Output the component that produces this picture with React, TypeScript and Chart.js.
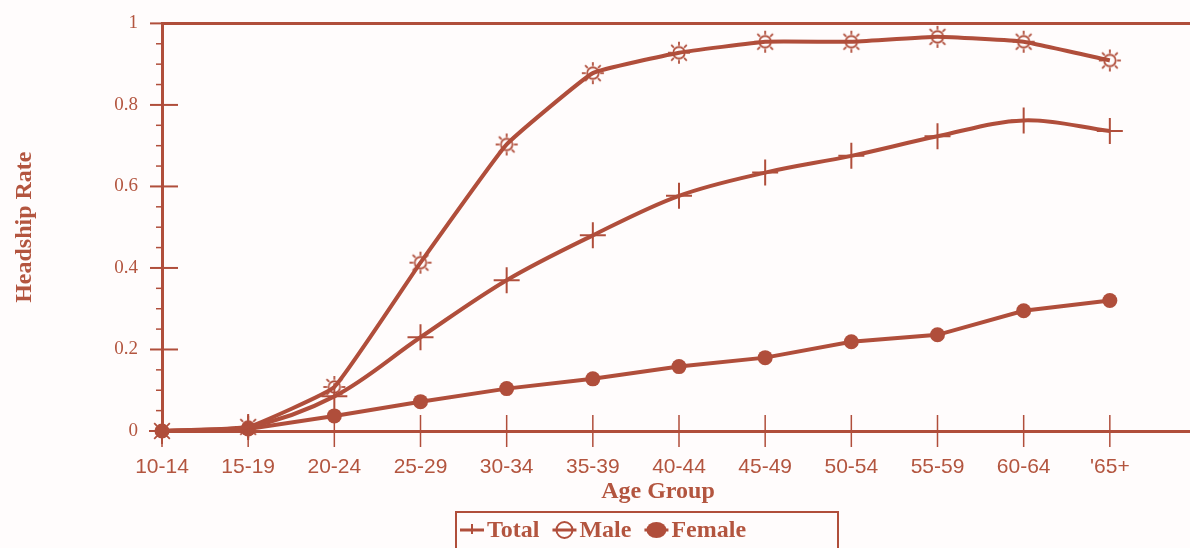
import React, { useEffect, useRef } from 'react';
import { Chart, registerables } from 'chart.js';

Chart.register(...registerables);

// ---- data ----
const ageGroups = ['10-14', '15-19', '20-24', '25-29', '30-34', '35-39', '40-44', '45-49', '50-54', '55-59', '60-64', "'65+", ''];
const totalRates = [0, 0.01, 0.085, 0.23, 0.37, 0.48, 0.577, 0.634, 0.675, 0.723, 0.762, 0.736];
const maleRates = [0, 0.01, 0.108, 0.413, 0.703, 0.878, 0.928, 0.955, 0.955, 0.967, 0.955, 0.909];
const femaleRates = [0, 0.005, 0.037, 0.072, 0.104, 0.128, 0.158, 0.18, 0.219, 0.236, 0.295, 0.32];
const yMajorTicks = [0, 0.2, 0.4, 0.6, 0.8, 1];
const seriesNames = ['Total', 'Male', 'Female'];
const yTitle = 'Headship Rate';
const xTitle = 'Age Group';

const LINE = '#b04e3b';
const TEXT = '#b3553f';
const BG = '#fffcfc';
const CANVAS_W = 1212;

function makeSun(color: string, size = 24) {
  const c = document.createElement('canvas');
  c.width = size;
  c.height = size;
  const g = c.getContext('2d')!;
  const m = size / 2;
  g.strokeStyle = color;
  g.lineWidth = 1.8;
  g.beginPath();
  g.arc(m, m, size * 0.24, 0, Math.PI * 2);
  g.stroke();
  for (let i = 0; i < 8; i++) {
    const a = (i * Math.PI) / 4;
    g.beginPath();
    g.moveTo(m + Math.cos(a) * size * 0.3, m + Math.sin(a) * size * 0.3);
    g.lineTo(m + Math.cos(a) * size * 0.46, m + Math.sin(a) * size * 0.46);
    g.stroke();
  }
  return c;
}

function isMajor(v: number) {
  return yMajorTicks.some((t) => Math.abs(t - v) < 1e-6);
}

export default function App() {
  const ref = useRef<HTMLCanvasElement | null>(null);

  useEffect(() => {
    const canvas = ref.current;
    if (!canvas) return;
    const sun = makeSun(LINE, 24);

    const decor = {
      id: 'decor',
      beforeDatasetsDraw(chart: any) {
        const { ctx, chartArea } = chart;
        const xs = chart.scales.x;
        const ys = chart.scales.y;
        ctx.save();
        ctx.strokeStyle = LINE;
        // top frame line
        ctx.lineWidth = 3;
        ctx.beginPath();
        ctx.moveTo(chartArea.left, chartArea.top);
        ctx.lineTo(chartArea.right + 10, chartArea.top);
        ctx.stroke();
        // y ticks
        ys.ticks.forEach((t: any) => {
          const py = ys.getPixelForValue(t.value);
          ctx.beginPath();
          if (isMajor(t.value)) {
            ctx.lineWidth = 2;
            ctx.moveTo(chartArea.left - 12, py);
            ctx.lineTo(chartArea.left + 16, py);
          } else {
            ctx.lineWidth = 1.5;
            ctx.moveTo(chartArea.left - 6, py);
            ctx.lineTo(chartArea.left, py);
          }
          ctx.stroke();
        });
        // x ticks (crossing the axis)
        ctx.lineWidth = 1.5;
        xs.ticks.forEach((_t: any, i: number) => {
          const px = xs.getPixelForTick(i);
          ctx.beginPath();
          ctx.moveTo(px, chartArea.bottom - 16);
          ctx.lineTo(px, chartArea.bottom + 16);
          ctx.stroke();
        });
        ctx.restore();
      },
      afterDraw(chart: any) {
        const { ctx } = chart;
        ctx.save();
        ctx.fillStyle = TEXT;
        ctx.strokeStyle = LINE;
        // x axis title
        ctx.font = 'bold 24px "Liberation Serif"';
        ctx.textAlign = 'center';
        ctx.textBaseline = 'alphabetic';
        ctx.fillText(xTitle, 658, 498);

        // legend box
        ctx.lineWidth = 2;
        ctx.strokeRect(456, 512, 382, 60);
        const cy = 530;
        let x = 460;
        ctx.textAlign = 'left';
        seriesNames.forEach((name, i) => {
          const symW = 24;
          ctx.strokeStyle = LINE;
          ctx.fillStyle = LINE;
          ctx.lineWidth = 3;
          ctx.beginPath();
          ctx.moveTo(x, cy);
          ctx.lineTo(x + symW, cy);
          ctx.stroke();
          const mx = x + symW / 2;
          if (i === 0) {
            ctx.lineWidth = 2;
            ctx.beginPath();
            ctx.moveTo(mx, cy - 6);
            ctx.lineTo(mx, cy + 4);
            ctx.stroke();
          } else if (i === 1) {
            ctx.lineWidth = 2;
            ctx.beginPath();
            ctx.arc(mx, cy, 8, 0, Math.PI * 2);
            ctx.stroke();
          } else {
            ctx.beginPath();
            ctx.ellipse(mx, cy, 10, 8, 0, 0, Math.PI * 2);
            ctx.fill();
          }
          ctx.fillStyle = TEXT;
          ctx.font = 'bold 24px "Liberation Serif"';
          ctx.fillText(name, x + symW + 3, 537);
          x += symW + 3 + ctx.measureText(name).width + 13;
        });
        ctx.restore();
      },
    };

    const common = {
      borderColor: LINE,
      backgroundColor: LINE,
      borderWidth: 4,
      fill: false,
      clip: false as any,
    };

    const chart = new Chart(canvas, {
      type: 'line',
      data: {
        labels: ageGroups,
        datasets: [
          {
            ...common,
            label: seriesNames[0],
            data: totalRates,
            pointStyle: 'cross',
            pointRadius: 13,
            pointBorderWidth: 2,
            pointBorderColor: LINE,
            tension: 0.35,
          },
          {
            ...common,
            label: seriesNames[1],
            data: maleRates,
            pointStyle: sun as any,
            pointRadius: 12,
            tension: 0.1,
          },
          {
            ...common,
            label: seriesNames[2],
            data: femaleRates,
            pointStyle: 'circle',
            pointRadius: 7.5,
            pointBorderWidth: 0,
            pointBackgroundColor: LINE,
            tension: 0,
          },
        ],
      },
      plugins: [decor],
      options: {
        animation: false,
        responsive: false,
        events: [],
        layout: { padding: { top: 22, right: 4, left: 0, bottom: 0 } },
        plugins: {
          legend: { display: false },
          tooltip: { enabled: false },
        },
        scales: {
          x: {
            type: 'category',
            offset: false,
            afterFit: (s: any) => {
              s.height = 117;
            },
            grid: { display: true, drawOnChartArea: false, color: 'transparent', tickLength: 16 },
            border: { display: true, color: LINE, width: 3 },
            ticks: {
              autoSkip: false,
              maxRotation: 0,
              padding: 8,
              color: TEXT,
              font: { family: '"Liberation Sans", Arial, sans-serif', size: 21 },
            },
          },
          y: {
            min: 0,
            max: 1,
            afterFit: (s: any) => {
              s.width = 162;
            },
            grid: { display: true, drawOnChartArea: false, color: 'transparent', tickLength: 12 },
            border: { display: true, color: LINE, width: 3 },
            title: {
              display: true,
              text: yTitle,
              color: TEXT,
              font: { family: '"Liberation Serif"', size: 24, weight: 'bold' },
              padding: { top: 10, bottom: 0 },
            },
            ticks: {
              stepSize: 0.05,
              autoSkip: false,
              padding: 12,
              color: TEXT,
              font: { family: '"Liberation Serif"', size: 19 },
              callback: (v: any) => {
                const n = Number(v);
                return isMajor(n) ? String(Math.round(n * 10) / 10) : '';
              },
            },
          },
        },
      },
    });

    return () => chart.destroy();
  }, []);

  return (
    <div
      style={{
        position: 'fixed',
        left: 0,
        top: 0,
        width: 1190,
        height: 548,
        overflow: 'hidden',
        background: BG,
      }}
    >
      <canvas ref={ref} width={CANVAS_W} height={548} style={{ width: CANVAS_W, height: 548, display: 'block' }} />
    </div>
  );
}
